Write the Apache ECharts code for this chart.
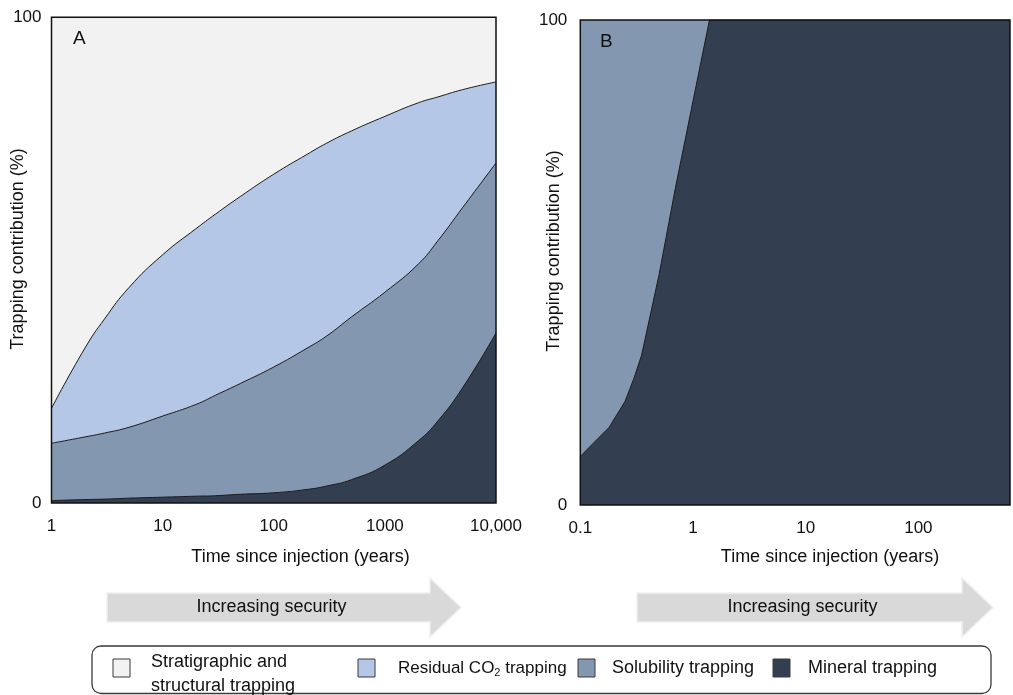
<!DOCTYPE html>
<html><head><meta charset="utf-8">
<script src="https://cdn.jsdelivr.net/npm/echarts@6/dist/echarts.min.js"></script>
<style>html,body{margin:0;padding:0;background:#fff}#c{width:1013px;height:695px}</style>
</head><body><div id="c"></div>
<script>
// ---- Panel A data (time in years, contribution in %) ----
const timeA = [1,2,3,5,10,20,30,50,100,200,300,500,1000,2000,3000,5000,10000];
const mineralA = [0.5,0.7,0.8,1.0,1.2,1.4,1.5,1.8,2.1,2.8,3.5,4.8,7.8,12.8,16.9,23.7,35.0];
const solubilityA = [11.8,12.9,13.6,14.6,16.7,18.9,20.7,22.8,25.9,29.1,30.9,33.5,35.6,36.4,37.1,37.1,35.0];
const residualA = [7.2,18.3,23.5,28.8,33.2,36.2,37.3,38.5,39.7,39.9,39.7,38.3,36.2,33.2,29.6,24.3,16.7];
const stratigraphicA = [80.5,68.1,62.1,55.6,48.9,43.5,40.5,36.9,32.3,28.2,25.9,23.4,20.4,17.6,16.4,14.9,13.3];
// ---- Panel B data ----
const timeB = [0.1,0.13,0.18,0.25,0.3,0.35,0.5,0.7,1.4,650];
const mineralB = [10.0,12.7,16.0,21.4,26.2,30.9,47.5,65.5,100,100];
const solubilityB = [90.0,87.3,84.0,78.6,73.8,69.1,52.5,34.5,0,0];
// ---- tick labels ----
const tickLabelsA = ['1','10','100','1000','10,000'];   // exponents 0..4
const tickLabelsB = ['0.1','1','10','100'];             // exponents -1..2
const yTickLabels = {0:'0',100:'100'};
const legendNames = ['Stratigraphic and\nstructural trapping','Residual CO{sub|2} trapping','Solubility trapping','Mineral trapping'];
const colors = {strat:'#f2f2f2', resid:'#b4c7e7', solub:'#8497b0', mineral:'#333f50'};

const FONT = '"Liberation Sans", Arial, sans-serif';
const chart = echarts.init(document.getElementById('c'), null, {renderer:'canvas'});

// Stack the layers (bottom -> top) so each area is drawn from 0 up to its cumulative top.
function cumulative(layers){
  const out = []; let acc = layers[0].map(()=>0);
  layers.forEach(l => { acc = acc.map((a,i)=>a + l[i]); out.push(acc.slice()); });
  return out;
}
const [cumMinA, cumSolA, cumResA, cumStrA] = cumulative([mineralA, solubilityA, residualA, stratigraphicA]);
const [cumMinB, cumSolB] = cumulative([mineralB, solubilityB]);

function fmtLog(labels, offset){
  return function(v){
    const e = Math.log10(v), r = Math.round(e);
    if (Math.abs(e - r) > 1e-6) return '';
    return labels[r + offset] || '';
  };
}
function layer(name, times, vals, color, idx, z, smooth, showLine){
  return {
    name, type:'line', xAxisIndex:idx, yAxisIndex:idx,
    data: times.map((t,i)=>[t, vals[i]]), smooth, symbol:'none', z,
    lineStyle: showLine ? {color:'#1c1c1c', width:1} : {width:0, opacity:0},
    areaStyle:{color, opacity:1, origin:'start'}, itemStyle:{color}, silent:true
  };
}
const axisLabelBase = {fontSize:17, color:'#111', fontFamily:FONT};
const xBase = {type:'log', logBase:10, axisLine:{show:false}, axisTick:{show:false}, splitLine:{show:false}};
const yBase = {type:'value', min:0, max:100, interval:100, axisLine:{show:false}, axisTick:{show:false}, splitLine:{show:false}};

function arrow(x0, x1, tip, yc, text){
  const bh = 14.5, hh = 29.5;
  return [
    {type:'polygon', z:5, shape:{points:[[x0,yc-bh],[x1,yc-bh],[x1,yc-hh],[tip,yc],[x1,yc+hh],[x1,yc+bh],[x0,yc+bh]]},
     style:{fill:'#d9d9d9', stroke:'#f0f0f0', lineWidth:1.5}},
    {type:'text', z:6, x:(x0+x1)/2+3, y:yc, style:{text, font:'18px '+FONT, fill:'#111', align:'center', verticalAlign:'middle'}}
  ];
}
const sqColors = [colors.strat, colors.resid, colors.solub, colors.mineral];
const sqX = [113, 358, 578, 773];
const txX = [151, 398, 612, 808];
const txSize = [18, 17, 18, 18];
const legendG = [{type:'rect', z:5, shape:{x:92, y:646, width:899, height:47.5, r:9}, style:{fill:'#fff', stroke:'#3a3a3a', lineWidth:1.3}}];
sqColors.forEach((c,i)=>{
  legendG.push({type:'rect', z:6, shape:{x:sqX[i], y:659, width:17, height:18}, style:{fill:c, stroke:'#3a3a3a', lineWidth:1}});
  legendG.push({type:'text', z:6, x:txX[i], y: i===0 ? 674.5 : 668,
    style:{text:legendNames[i], font:txSize[i]+'px '+FONT, fill:'#111', align:'left', verticalAlign:'middle', lineHeight:24,
      rich:{sub:{fontSize:11, fontFamily:FONT, fill:'#111', padding:[9,0,0,0]}}}});
});

const option = {
  animation:false,
  backgroundColor:'#fff',
  grid:[
    {left:51.5, top:17.3, width:444.5, height:485.7, show:true, borderColor:'#111', borderWidth:1.5, backgroundColor:'transparent', z:10},
    {left:580.3, top:20, width:434.7, height:485, show:true, borderColor:'#111', borderWidth:1.5, backgroundColor:'transparent', z:10}
  ],
  xAxis:[
    Object.assign({gridIndex:0, min:1, max:10000, axisLabel:Object.assign({margin:15, formatter:fmtLog(tickLabelsA,0)}, axisLabelBase)}, xBase),
    Object.assign({gridIndex:1, min:0.1, max:650, axisLabel:Object.assign({margin:15, formatter:fmtLog(tickLabelsB,1)}, axisLabelBase)}, xBase)
  ],
  yAxis:[
    Object.assign({gridIndex:0, axisLabel:Object.assign({margin:10, formatter:v=>yTickLabels[v]||''}, axisLabelBase)}, yBase),
    Object.assign({gridIndex:1, axisLabel:Object.assign({margin:13, formatter:v=>yTickLabels[v]||''}, axisLabelBase)}, yBase)
  ],
  series:[
    layer('Stratigraphic and structural trapping', timeA, cumStrA, colors.strat, 0, 3, 0.5, false),
    layer('Residual CO2 trapping', timeA, cumResA, colors.resid, 0, 4, 0.5, true),
    layer('Solubility trapping', timeA, cumSolA, colors.solub, 0, 5, 0.5, true),
    layer('Mineral trapping', timeA, cumMinA, colors.mineral, 0, 6, 0.5, true),
    layer('Solubility trapping', timeB, cumSolB, colors.solub, 1, 3, false, false),
    layer('Mineral trapping', timeB, cumMinB, colors.mineral, 1, 4, false, true)
  ],
  graphic:[
    {type:'text', z:12, x:73, y:39, style:{text:'A', font:'19px '+FONT, fill:'#111', align:'left', verticalAlign:'middle'}},
    {type:'text', z:12, x:600, y:42, style:{text:'B', font:'19px '+FONT, fill:'#111', align:'left', verticalAlign:'middle'}},
    {type:'text', x:300.5, y:557, style:{text:'Time since injection (years)', font:'18px '+FONT, fill:'#111', align:'center', verticalAlign:'middle'}},
    {type:'text', x:830, y:557, style:{text:'Time since injection (years)', font:'18px '+FONT, fill:'#111', align:'center', verticalAlign:'middle'}},
    {type:'text', x:18, y:249, rotation:Math.PI/2, style:{text:'Trapping contribution (%)', font:'18px '+FONT, fill:'#111', align:'center', verticalAlign:'middle'}},
    {type:'text', x:554, y:251, rotation:Math.PI/2, style:{text:'Trapping contribution (%)', font:'18px '+FONT, fill:'#111', align:'center', verticalAlign:'middle'}},
    ...arrow(107, 430, 461, 607.5, 'Increasing security'),
    ...arrow(637, 962, 993, 607.5, 'Increasing security'),
    ...legendG
  ]
};
chart.setOption(option);
</script></body></html>
